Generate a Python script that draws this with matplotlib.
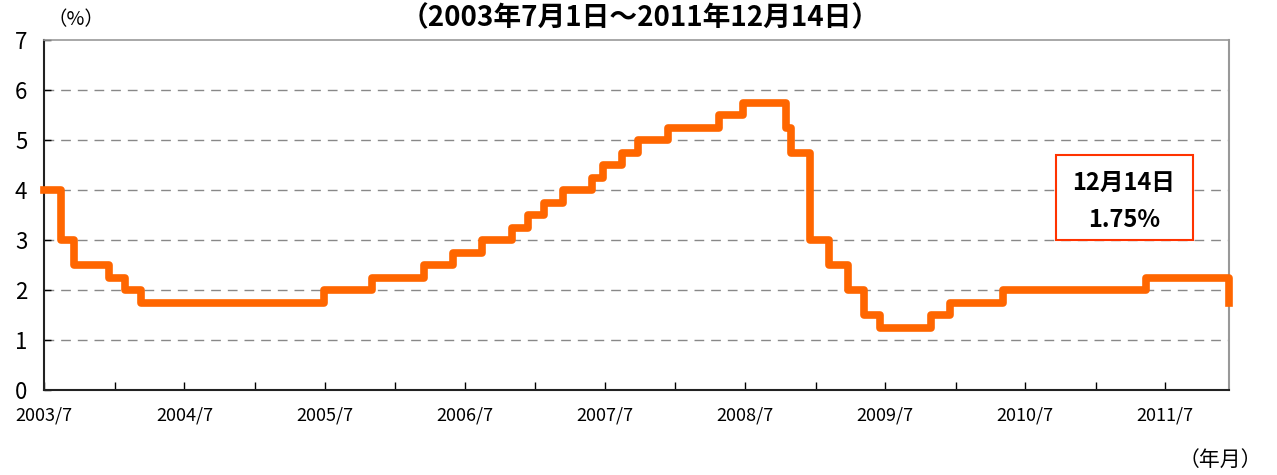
import datetime as dt
import matplotlib
matplotlib.use("Agg")
import matplotlib.pyplot as plt
import matplotlib.dates as mdates
from matplotlib.patches import Rectangle

plt.rcParams['font.family'] = ['Noto Sans CJK JP', 'DejaVu Sans']

# 政策金利の変更日と水準 (%)
change_dates = [
    "2003-07-01", "2003-08-14", "2003-09-18", "2003-12-17", "2004-01-28",
    "2004-03-11", "2005-06-30", "2005-11-02", "2006-03-16", "2006-05-31",
    "2006-08-16", "2006-11-01", "2006-12-13", "2007-01-24", "2007-03-15",
    "2007-05-30", "2007-06-27", "2007-08-15", "2007-09-26", "2007-12-12",
    "2008-04-23", "2008-06-25", "2008-10-15", "2008-10-29", "2008-12-17",
    "2009-02-04", "2009-03-25", "2009-05-06", "2009-06-17", "2009-10-28",
    "2009-12-16", "2010-05-05", "2011-05-12", "2011-12-14",
]
rates = [
    4.00, 3.00, 2.50, 2.25, 2.00,
    1.75, 2.00, 2.25, 2.50, 2.75,
    3.00, 3.25, 3.50, 3.75, 4.00,
    4.25, 4.50, 4.75, 5.00, 5.25,
    5.50, 5.75, 5.25, 4.75, 3.00,
    2.50, 2.00, 1.50, 1.25, 1.50,
    1.75, 2.00, 2.25, 1.75,
]
yticks = [0, 1, 2, 3, 4, 5, 6, 7]
title = "（2003年7月1日～2011年12月14日）"
note_lines = ["12月14日", "1.75%"]

dates = [dt.datetime.strptime(d, "%Y-%m-%d") for d in change_dates]

fig = plt.figure(figsize=(12.77, 4.75), dpi=100)
ax = fig.add_axes([44 / 1277, 1 - 390 / 475, (1229 - 44) / 1277, 350 / 475])

ax.step(dates, rates, where="post", color="#FF6600", lw=5.5,
        solid_joinstyle="round", zorder=3, clip_on=False)

ax.set_xlim(dates[0], dates[-1])
ax.set_ylim(0, 7)
ax.set_yticks(yticks)
ax.set_yticklabels([str(v) for v in yticks], fontsize=16)

ax.xaxis.set_major_locator(mdates.MonthLocator(bymonth=7))
ax.xaxis.set_minor_locator(mdates.MonthLocator(bymonth=1))
ax.xaxis.set_major_formatter(mdates.DateFormatter("%Y/7"))
ax.tick_params(axis="x", which="both", direction="in", length=6, width=1,
               labelsize=13, pad=12)
ax.tick_params(axis="y", direction="in", length=5, width=1, pad=12)

for v in yticks[1:-1]:
    ax.axhline(v, color="#888888", lw=1, ls=(0, (7, 5)), zorder=1)

ax.spines["left"].set_color("#222222")
ax.spines["bottom"].set_color("#222222")
ax.spines["left"].set_linewidth(1.5)
ax.spines["bottom"].set_linewidth(1.5)
ax.spines["top"].set_color("#999999")
ax.spines["right"].set_color("#999999")
ax.spines["top"].set_linewidth(1.2)
ax.spines["right"].set_linewidth(1.5)

fig.text(640 / 1277, 1 - 18 / 475, title, ha="center", va="center",
         fontsize=20, fontweight="bold")
fig.text(76 / 1277, 1 - 20 / 475, "（%）", ha="center", va="center", fontsize=14)
fig.text(1262 / 1277, 1 - 460 / 475, "（年月）", ha="right", va="center", fontsize=15)

box = Rectangle((1056 / 1277, 1 - 240 / 475), 137 / 1277, 85 / 475,
                transform=fig.transFigure, fill=True, facecolor="white",
                edgecolor="#FF3300", lw=1.5, zorder=5)
fig.add_artist(box)
fig.text(1124 / 1277, 1 - 183 / 475, note_lines[0], ha="center", va="center",
         fontsize=17, fontweight="bold", zorder=6)
fig.text(1124 / 1277, 1 - 220 / 475, note_lines[1], ha="center", va="center",
         fontsize=17, fontweight="bold", zorder=6)

fig.savefig("out.png", dpi=100)
